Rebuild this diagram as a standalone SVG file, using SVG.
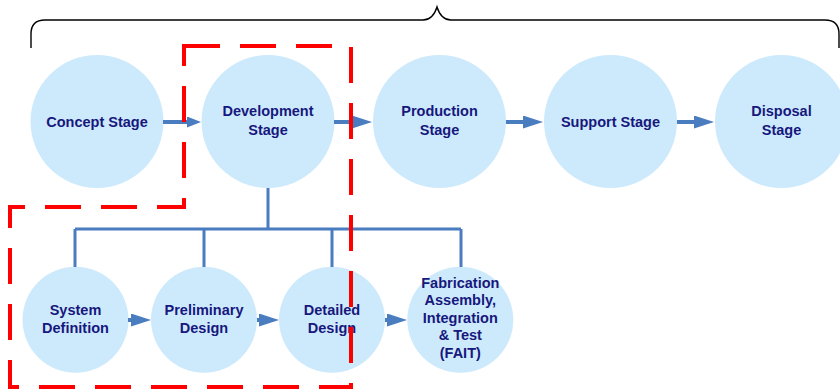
<svg xmlns="http://www.w3.org/2000/svg" width="840" height="392" viewBox="0 0 840 392">
<defs>
<style>
.node circle{fill:#cdeafc;}
.node text{font-family:"Liberation Sans",Arial,sans-serif;font-weight:bold;font-size:14.5px;fill:#17177c;text-anchor:middle;}
.arrow{stroke:#4a7cc0;stroke-width:4;fill:none;}
.tree{stroke:#4a7cc0;stroke-width:3;fill:none;}
.brace{stroke:#000;stroke-width:1.4;fill:none;}
.focus{stroke:#ff0000;stroke-width:4;fill:none;stroke-dasharray:36 20;}
</style>
<marker id="ah" markerUnits="userSpaceOnUse" viewBox="0 0 20 13" refX="10" refY="6.5" markerWidth="20" markerHeight="13" orient="auto">
<path d="M0,0 L20,6.5 L0,13 Z" fill="#4a7cc0"/>
</marker>
<marker id="ahs" markerUnits="userSpaceOnUse" viewBox="0 0 14 11" refX="7" refY="5.5" markerWidth="14" markerHeight="11" orient="auto">
<path d="M0,0 L14,5.5 L0,11 Z" fill="#4a7cc0"/>
</marker>
</defs>
<rect width="840" height="392" fill="#ffffff"/>
<path class="brace" d="M31,48 V34 Q31,20 45,20 H423 Q433,20 437,7 Q441,20 451,20 H825 Q839,20 839,34 V48"/>
<g id="n-concept" class="node"><circle cx="97" cy="121.5" r="66.5"/><text x="97" y="127">Concept Stage</text></g>
<g id="n-development" class="node"><circle cx="268" cy="121.5" r="66.5"/><text x="268" y="116">Development</text><text x="268" y="134.5">Stage</text></g>
<g id="n-production" class="node"><circle cx="439.5" cy="121.5" r="66.5"/><text x="439.5" y="116">Production</text><text x="439.5" y="134.5">Stage</text></g>
<g id="n-support" class="node"><circle cx="610.5" cy="121.5" r="66.5"/><text x="610.5" y="127">Support Stage</text></g>
<g id="n-disposal" class="node"><circle cx="781.5" cy="121.5" r="66.5"/><text x="781.5" y="116">Disposal</text><text x="781.5" y="134.5">Stage</text></g>
<g id="n-system" class="node"><circle cx="75.5" cy="319.7" r="53"/><text x="75.5" y="315">System</text><text x="75.5" y="333">Definition</text></g>
<g id="n-preliminary" class="node"><circle cx="204" cy="319.7" r="53"/><text x="204" y="315">Preliminary</text><text x="204" y="333">Design</text></g>
<g id="n-detailed" class="node"><circle cx="332" cy="319.7" r="53"/><text x="332" y="315">Detailed</text><text x="332" y="333">Design</text></g>
<g id="n-fait" class="node"><circle cx="460.3" cy="319.7" r="53"/><text x="460.3" y="287.5">Fabrication</text><text x="460.3" y="305">Assembly,</text><text x="460.3" y="322.5">Integration</text><text x="460.3" y="340">&amp; Test</text><text x="460.3" y="357.5">(FAIT)</text></g>
<g id="connectors">
<line class="arrow" x1="163" y1="122" x2="194" y2="122" marker-end="url(#ahs)"/>
<line class="arrow" x1="334" y1="122" x2="362" y2="122" marker-end="url(#ah)"/>
<line class="arrow" x1="506" y1="122" x2="533" y2="122" marker-end="url(#ah)"/>
<line class="arrow" x1="677" y1="122" x2="704" y2="122" marker-end="url(#ah)"/>
<line class="arrow" x1="128" y1="320" x2="141" y2="320" marker-end="url(#ah)"/>
<line class="arrow" x1="257" y1="320" x2="269" y2="320" marker-end="url(#ah)"/>
<line class="arrow" x1="385" y1="320" x2="397" y2="320" marker-end="url(#ah)"/>
<path class="tree" d="M268,188 V229 M75,229 H461 M75,229 V267 M204,229 V267 M332,229 V267 M461,229 V267"/>
</g>
<path class="focus" d="M184,46 H351 V387 H10 V207 H184 Z"/>
</svg>
